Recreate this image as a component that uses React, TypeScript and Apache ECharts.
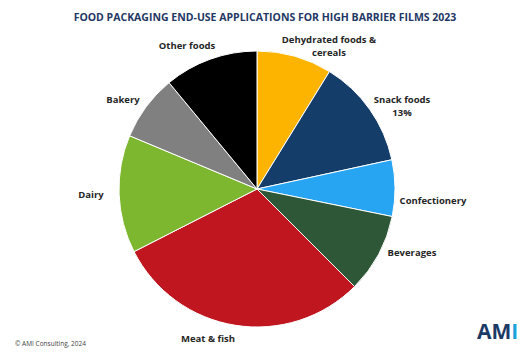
import React, { useEffect, useRef } from "react";
import * as echarts from "echarts";

const categories = [
  "Dehydrated foods &\ncereals",
  "Snack foods",
  "Confectionery",
  "Beverages",
  "Meat & fish",
  "Dairy",
  "Bakery",
  "Other foods",
];
const shares = [8.8, 12.8, 6.6, 9.3, 30.0, 13.8, 7.7, 11.0];
const showPercent = [false, true, false, false, false, false, false, false];
const colors = ["#FDB400", "#153D6A", "#27A4F2", "#2D5736", "#BF1620", "#7DB72F", "#808080", "#000000"];
// label anchor positions (layout only)
const labelPos: [number, number][] = [
  [329, 46],
  [402, 106],
  [433, 200],
  [412, 252],
  [208, 338],
  [91, 194],
  [123, 99],
  [187, 45],
];

export default function App() {
  const ref = useRef<HTMLDivElement>(null);
  useEffect(() => {
    if (!ref.current) return;
    const chart = echarts.init(ref.current, null, { renderer: "svg" });
    const total = shares.reduce((a, b) => a + b, 0);
    chart.setOption({
      animation: false,
      backgroundColor: "#ffffff",
      title: {
        text: "FOOD PACKAGING END-USE APPLICATIONS FOR HIGH BARRIER FILMS 2023",
        left: "center",
        top: 6,
        textStyle: { fontFamily: "Open Sans", fontWeight: "bold", fontSize: 10.5, color: "#1F3864" },
      },
      graphic: [
        {
          type: "text",
          left: 15,
          top: 340,
          style: { text: "© AMI Consulting, 2024", fontFamily: "Open Sans", fontSize: 6.5, fill: "#444" },
        },
        {
          type: "text",
          left: 477,
          top: 320,
          style: {
            text: "{a|AM}{b|I}",
            rich: {
              a: { fontFamily: "Open Sans", fontWeight: "bold", fontSize: 21, fill: "#1B3A66", color: "#1B3A66" },
              b: { fontFamily: "Open Sans", fontWeight: "bold", fontSize: 21, fill: "#1FA3DD", color: "#1FA3DD" },
            },
          },
        },
      ],
      series: [
        {
          type: "pie",
          center: [257, 189],
          radius: 138,
          startAngle: 90,
          clockwise: true,
          itemStyle: { borderColor: "#ffffff", borderWidth: 1 },
          label: {
            show: true,
            position: "outside",
            fontFamily: "Open Sans",
            fontWeight: "bold",
            fontSize: 9.5,
            color: "#262626",
            lineHeight: 13,
            align: "center",
            formatter: (p: any) =>
              showPercent[p.dataIndex]
                ? `${p.name}\n${Math.round((shares[p.dataIndex] / total) * 100)}%`
                : p.name,
          },
          labelLine: { show: false },
          labelLayout: (p: any) => {
            const pos = labelPos[p.dataIndex];
            return { x: pos[0], y: pos[1], align: "center", verticalAlign: "middle" };
          },
          data: categories.map((c, i) => ({ name: c, value: shares[i], itemStyle: { color: colors[i] } })),
        },
      ],
    });
    return () => chart.dispose();
  }, []);
  return <div ref={ref} style={{ width: 530, height: 356, margin: -8 }} />;
}
